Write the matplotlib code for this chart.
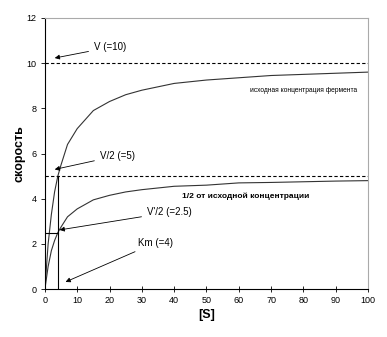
import matplotlib
matplotlib.use("Agg")
import matplotlib.pyplot as plt

plt.rcParams['font.family'] = ['Liberation Sans', 'DejaVu Sans']

S = [0, 1, 2, 3, 4, 5, 7, 10, 15, 20, 25, 30, 40, 50, 60, 70, 80, 90, 100]
v_full = [0, 2.0, 3.3, 4.3, 5.0, 5.5, 6.4, 7.1, 7.9, 8.3, 8.6, 8.8, 9.1, 9.25, 9.35, 9.45, 9.5, 9.55, 9.6]
v_half = [0, 1.0, 1.7, 2.15, 2.5, 2.75, 3.2, 3.55, 3.95, 4.15, 4.3, 4.4, 4.55, 4.6, 4.7, 4.72, 4.75, 4.78, 4.8]
Vmax = 10
Vhalf = 5
Vquarter = 2.5
Km = 4
xticks = [0, 10, 20, 30, 40, 50, 60, 70, 80, 90, 100]
yticks = [0, 2, 4, 6, 8, 10, 12]

fig = plt.figure(figsize=(3.87, 3.37), dpi=100)
ax = fig.add_axes([0.116, 0.142, 0.835, 0.805])

ax.plot(S, v_full, color='#333333', lw=0.8)
ax.plot(S, v_half, color='#333333', lw=0.8)
ax.axhline(Vmax, color='black', lw=0.8, ls=(0, (3, 2)))
ax.axhline(Vhalf, color='black', lw=0.8, ls=(0, (3, 2)))
ax.plot([Km, Km], [0, Vhalf], color='black', lw=0.8)
ax.plot([0, Km], [Vquarter, Vquarter], color='black', lw=0.8)

arrowprops = dict(arrowstyle='-|>', color='black', lw=0.6, mutation_scale=7)
fs = 7
ax.annotate('V (=10)', xy=(2.2, 10.2), xytext=(15.2, 10.7), fontsize=fs,
            va='center', ha='left', arrowprops=arrowprops)
ax.annotate('V/2 (=5)', xy=(2.2, 5.27), xytext=(17, 5.9), fontsize=fs,
            va='center', ha='left', arrowprops=arrowprops)
ax.annotate("V'/2 (=2.5)", xy=(3.7, 2.6), xytext=(31.6, 3.4), fontsize=fs,
            va='center', ha='left', arrowprops=arrowprops)
ax.annotate('Km (=4)', xy=(5.6, 0.27), xytext=(28.8, 2.05), fontsize=fs,
            va='center', ha='left', arrowprops=arrowprops)

ax.text(63.5, 8.8, 'исходная концентрация фермента', fontsize=4.8,
        va='center', ha='left')
ax.text(42.4, 4.1, '1/2 от исходной концентрации', fontsize=6, fontweight='bold',
        va='center', ha='left')

ax.set_xlim(0, 100)
ax.set_ylim(0, 12)
ax.set_xticks(xticks)
ax.set_yticks(yticks)
ax.tick_params(axis='both', labelsize=6.5, length=3, width=0.6, pad=3)
ax.tick_params(axis='x', direction='inout', length=4)
ax.set_xlabel('[S]', fontsize=9, fontweight='bold', labelpad=3)
ax.set_ylabel('скорость', fontsize=9, fontweight='bold', labelpad=1)

for side in ['top', 'right']:
    ax.spines[side].set_color('#aaaaaa')
    ax.spines[side].set_linewidth(0.8)
for side in ['left', 'bottom']:
    ax.spines[side].set_color('black')
    ax.spines[side].set_linewidth(0.8)

fig.savefig('out.png', dpi=100)
